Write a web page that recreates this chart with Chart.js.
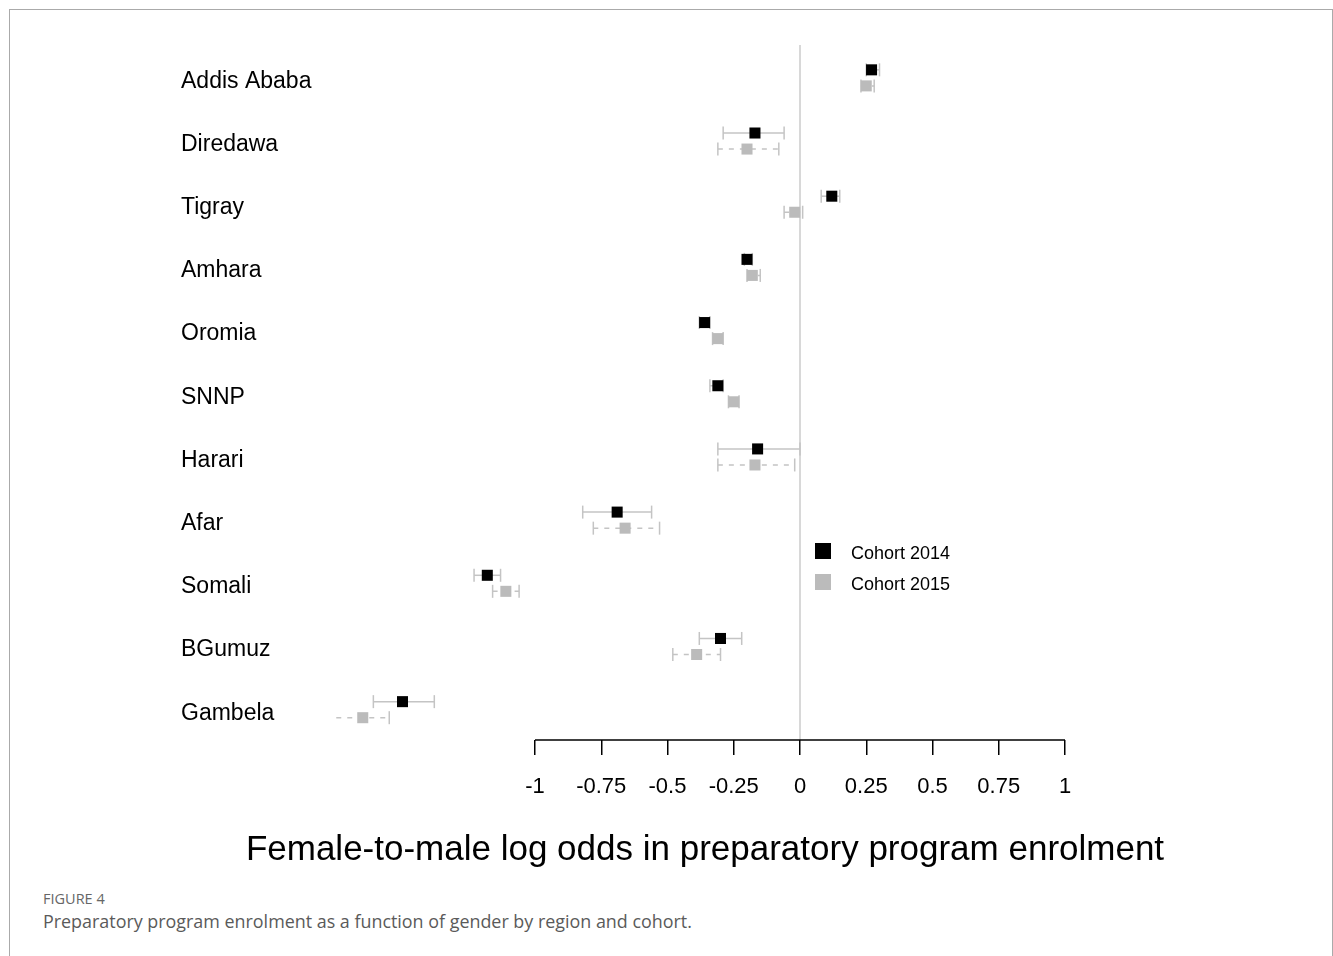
<!DOCTYPE html>
<html>
<head>
<meta charset="utf-8">
<script src="https://cdn.jsdelivr.net/npm/chart.js@4.4.1/dist/chart.umd.min.js"></script>
<style>
  body { margin: 0; background: #fff; width: 1333px; height: 956px; overflow: hidden; position: relative; font-family: "Liberation Sans", Arial, sans-serif; }
  #frame { position: absolute; left: 9px; top: 9px; width: 1322px; height: 980px; border: 1px solid #aaa; }
  #wrap { position: absolute; left: 0; top: 0; width: 1333px; height: 880px; }
  #xtitle { position: absolute; left: 0; top: 828px; width: 1410px; text-align: center; font-size: 35px; line-height: 40px; color: #000; white-space: nowrap; }
  .leg { position: absolute; left: 815px; font-size: 18px; color: #000; }
  .leg span { position: absolute; left: 0; width: 16px; height: 16px; }
  .leg b { position: absolute; left: 36px; font-weight: normal; white-space: nowrap; line-height: 18px; }
  #fig { position: absolute; left: 43px; top: 889px; font-family: "Open Sans", sans-serif; font-size: 14.5px; color: #666; }
  #cap { position: absolute; left: 43px; top: 909px; font-family: "Open Sans", sans-serif; font-size: 17.9px; color: #5a5a5a; white-space: nowrap; }
</style>
</head>
<body>
<div id="frame"></div>
<div id="wrap"><canvas id="forest" width="1333" height="880"></canvas></div>
<div id="xtitle">Female-to-male log odds in preparatory program enrolment</div>
<div class="leg" style="top:543px"><span style="background:#000"></span><b style="top:1px">Cohort 2014</b></div>
<div class="leg" style="top:574px"><span style="background:#bbb"></span><b style="top:1px">Cohort 2015</b></div>
<div id="fig">FIGURE 4</div>
<div id="cap">Preparatory program enrolment as a function of gender by region and cohort.</div>
<script>
// regioni, dall'alto in basso
const regions = ['Addis Ababa', 'Diredawa', 'Tigray', 'Amhara', 'Oromia', 'SNNP', 'Harari', 'Afar', 'Somali', 'BGumuz', 'Gambela'];

// coorte 2014: stima e intervallo
const est2014 = [0.27, -0.17, 0.12, -0.20, -0.36, -0.31, -0.16, -0.69, -1.18, -0.30, -1.50];
const lo2014  = [0.25, -0.29, 0.08, -0.21, -0.38, -0.34, -0.31, -0.82, -1.23, -0.38, -1.61];
const hi2014  = [0.30, -0.06, 0.15, -0.18, -0.34, -0.29, 0.00, -0.56, -1.13, -0.22, -1.38];

// coorte 2015
const est2015 = [0.25, -0.20, -0.02, -0.18, -0.31, -0.25, -0.17, -0.66, -1.11, -0.39, -1.65];
const lo2015  = [0.23, -0.31, -0.06, -0.20, -0.33, -0.27, -0.31, -0.78, -1.16, -0.48, -1.75];
const hi2015  = [0.28, -0.08, 0.01, -0.15, -0.29, -0.23, -0.02, -0.53, -1.06, -0.30, -1.55];

const xTicks = [-1, -0.75, -0.5, -0.25, 0, 0.25, 0.5, 0.75, 1];

const yMin = -0.52, yMax = 10.48;
const shift = 0.127;
const whisk = '#c4c4c4';

function ciSets(lo, hi, off, dash) {
    return regions.map((r, i) => ({
        type: 'line',
        data: [{ x: lo[i], y: i + off }, { x: hi[i], y: i + off }],
        borderColor: whisk,
        borderWidth: 1.5,
        borderDash: dash,
        pointStyle: 'line',
        rotation: 90,
        pointRadius: 6.5,
        pointBorderColor: whisk,
        pointBorderWidth: 1.5,
        clip: false,
        order: 2
    }));
}

function markers(est, off, color) {
    return {
        type: 'scatter',
        data: est.map((v, i) => ({ x: v, y: i + off })),
        pointStyle: 'rect',
        pointRadius: 7.8,
        backgroundColor: color,
        borderWidth: 0,
        clip: false,
        order: 0
    };
}

const datasets = [
    // linea dello zero
    { type: 'line', data: [{ x: 0, y: yMin }, { x: 0, y: yMax }], borderColor: '#cccccc', borderWidth: 1.5, pointRadius: 0, order: 3 },
    // asse x da -1 a 1
    { type: 'line', data: [{ x: -1, y: yMax }, { x: 1, y: yMax }], borderColor: '#000', borderWidth: 1.5, pointRadius: 0, clip: false, order: 1 },
    ...ciSets(lo2014, hi2014, -shift, []),
    ...ciSets(lo2015, hi2015, shift, [5, 6]),
    markers(est2014, -shift, '#000'),
    markers(est2015, shift, '#bbbbbb')
];

new Chart(document.getElementById('forest'), {
    type: 'scatter',
    data: { datasets },
    options: {
        responsive: false,
        animation: false,
        events: [],
        layout: { padding: { left: 181, right: 268, top: 45, bottom: 0 } },
        plugins: { legend: { display: false }, tooltip: { enabled: false } },
        scales: {
            x: {
                type: 'linear',
                min: -1.717,
                max: 1,
                afterBuildTicks: s => { s.ticks = xTicks.map(v => ({ value: v })); },
                afterFit: s => { s.height = 140; },
                ticks: {
                    autoSkip: false,
                    maxRotation: 0,
                    padding: 19,
                    color: '#000',
                    font: { family: 'Liberation Sans', size: 22 },
                    callback: v => String(v)
                },
                grid: { drawOnChartArea: false, drawTicks: true, tickLength: 15, color: '#000', lineWidth: 1.5 },
                border: { display: false }
            },
            y: {
                type: 'linear',
                reverse: true,
                min: yMin,
                max: yMax,
                afterBuildTicks: s => { s.ticks = regions.map((r, i) => ({ value: i })); },
                afterFit: s => { s.width = 164; },
                ticks: {
                    autoSkip: false,
                    crossAlign: 'far',
                    padding: 0,
                    labelOffset: 3.5,
                    color: '#000',
                    font: { family: 'Liberation Sans', size: 23 },
                    callback: v => regions[v]
                },
                grid: { display: false },
                border: { display: false }
            }
        }
    }
});
</script>
</body>
</html>
